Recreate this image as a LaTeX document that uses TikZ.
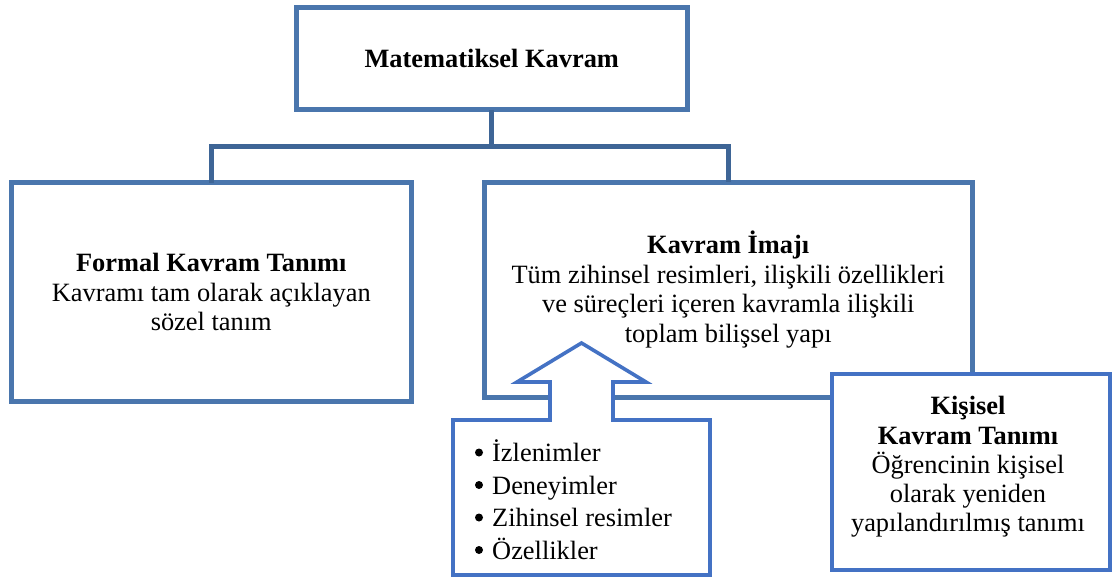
\documentclass[tikz,border=0pt]{standalone}
\usepackage{fontspec}
\setmainfont{Liberation Serif}
\definecolor{boxblue}{RGB}{74,118,173}
\definecolor{linkblue}{RGB}{62,101,150}
\definecolor{brightblue}{RGB}{68,114,196}
\newcommand{\bodyfont}{\fontsize{26.4}{29.8}\selectfont}
\begin{document}
\begin{tikzpicture}[x=1pt,y=-1pt,
  mainbox/.style={draw=boxblue, line width=5pt, fill=white, rectangle,
    inner sep=0pt, outer sep=0pt, align=center, font=\bodyfont},
  sidebox/.style={draw=brightblue, line width=4.5pt, fill=white, rectangle,
    inner sep=0pt, outer sep=0pt},
  link/.style={draw=linkblue, line width=5pt},
  plain/.style={inner sep=0pt, align=center, font=\bodyfont},
  listitem/.style={inner sep=0pt, anchor=base west, font=\bodyfont},
  listdot/.style={fill=black, draw=none}]
\useasboundingbox (0,0) rectangle (1115,579);

% top concept
\node[mainbox, minimum width=390.5pt, minimum height=102pt] (top) at (491.75,58.5)
  {\textbf{Matematiksel Kavram}};

% formal definition
\node[mainbox, minimum width=400.5pt, minimum height=219pt] (formal) at (211.25,292)
  {\textbf{Formal Kavram Tanımı}\\Kavramı tam olarak açıklayan\\sözel tanım};

% concept image
\node[mainbox, minimum width=487.5pt, minimum height=215pt] (image) at (728.25,289.5)
  {\textbf{Kavram İmajı}\\Tüm zihinsel resimleri, ilişkili özellikleri\\ve süreçleri içeren kavramla ilişkili\\toplam bilişsel yapı};

% tree connectors
\coordinate (junction) at (491.75,146);
\draw[link] (top.south) -- (junction);
\draw[link] (junction) -| (formal.north);
\draw[link] (junction) -| (image.north);

% input box with upward block arrow
\coordinate (b1) at (453,420);
\coordinate (b2) at (550,420);
\coordinate (b3) at (550,382);
\coordinate (b4) at (517,382);
\coordinate (tip) at (581.5,343);
\coordinate (b6) at (646,382);
\coordinate (b7) at (613,382);
\coordinate (b8) at (613,420);
\coordinate (b9) at (710,420);
\coordinate (b10) at (710,575);
\coordinate (b11) at (453,575);
\draw[draw=brightblue, line width=3.6pt, fill=white, line join=miter]
  (b1) -- (b2) -- (b3) -- (b4) -- (tip) -- (b6) -- (b7) -- (b8) -- (b9)
  -- (b10) -- (b11) -- cycle;

% bulleted list
\node[listitem] (i1) at (492,461.5) {İzlenimler};
\node[listitem] (i2) at (492,494) {Deneyimler};
\node[listitem] (i3) at (492,526.5) {Zihinsel resimler};
\node[listitem] (i4) at (492,559) {Özellikler};
\foreach \n in {i1,i2,i3,i4}
  \fill[listdot] ([xshift=-13pt,yshift=9pt]\n.base west) circle (4pt);

% personal concept definition
\node[sidebox, minimum width=278pt, minimum height=196pt] (personal) at (971,472) {};
\node[plain, font={\fontsize{26.4}{29.2}\selectfont}] (personaltext) at (968,467)
  {\textbf{Kişisel}\\\textbf{Kavram Tanımı}\\Öğrencinin kişisel\\olarak yeniden\\yapılandırılmış tanımı};
\end{tikzpicture}
\end{document}
